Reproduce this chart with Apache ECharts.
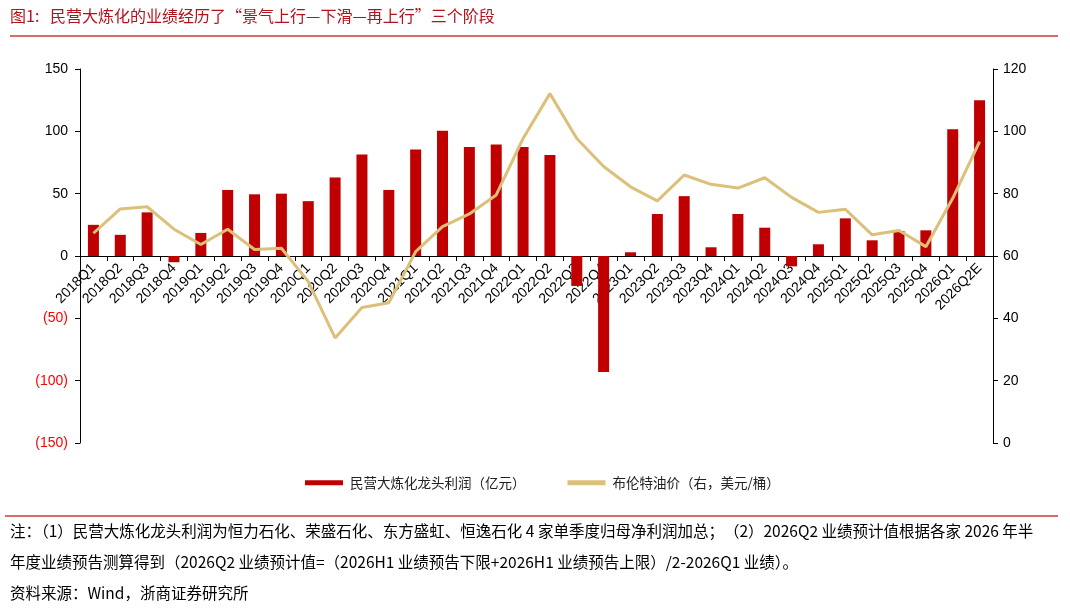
<!DOCTYPE html>
<html>
<head>
<meta charset="utf-8">
<script src="https://cdn.jsdelivr.net/npm/echarts@6/dist/echarts.min.js"></script>
<style>
  html, body { margin: 0; padding: 0; background: #fff; }
  #chart { width: 1070px; height: 614px; }
</style>
</head>
<body>
<div id="chart"></div>
<script>
// quarters on the x axis
const quarters = [
  '2018Q1', '2018Q2', '2018Q3', '2018Q4',
  '2019Q1', '2019Q2', '2019Q3', '2019Q4',
  '2020Q1', '2020Q2', '2020Q3', '2020Q4',
  '2021Q1', '2021Q2', '2021Q3', '2021Q4',
  '2022Q1', '2022Q2', '2022Q3', '2022Q4',
  '2023Q1', '2023Q2', '2023Q3', '2023Q4',
  '2024Q1', '2024Q2', '2024Q3', '2024Q4',
  '2025Q1', '2025Q2', '2025Q3', '2025Q4',
  '2026Q1', '2026Q2E'
]

// 民营大炼化龙头利润 (亿元)
const profit = [
  25, 17, 35, -5,
  18.5, 53, 49.5, 50,
  44, 63, 81.5, 53,
  85.5, 100.5, 87.5, 89.5,
  87.5, 81, -24, -93,
  3, 33.7, 48, 7,
  33.7, 22.7, -8.3, 9.4,
  30.2, 12.6, 20, 20.6,
  101.6, 125
]

// 布伦特油价 (右, 美元/桶)
const brent = [
  67.3, 75.1, 75.8, 68.6,
  63.7, 68.6, 62.1, 62.5,
  51.8, 33.7, 43.5, 45,
  61.4, 69.4, 73.5, 79.6,
  97.7, 112.1, 97.7, 88.7,
  82.2, 77.7, 86, 83,
  81.8, 85.1, 78.8, 74,
  75, 66.8, 68.2, 63,
  78.5, 96.7
]

const leftTicks = { min: -150, max: 150, step: 50 }
const rightTicks = { min: 0, max: 120, step: 20 }

const seriesNames = ['民营大炼化龙头利润（亿元）', '布伦特油价（右，美元/桶）']
const titleText = '图1:   民营大炼化的业绩经历了“景气上行—下滑—再上行”三个阶段'
const notes = [
  '注：（1）民营大炼化龙头利润为恒力石化、荣盛石化、东方盛虹、恒逸石化 4 家单季度归母净利润加总；（2）2026Q2 业绩预计值根据各家 2026 年半',
  '年度业绩预告测算得到（2026Q2 业绩预计值=（2026H1 业绩预告下限+2026H1 业绩预告上限）/2-2026Q1 业绩）。',
  '资料来源：Wind，浙商证券研究所'
]

const RED = '#C00000'
const GOLD = '#DCC07A'
const RULE = '#D96B6B'
const cjk = '"Noto Sans CJK SC", sans-serif'
const latin = '"Liberation Sans", Arial, sans-serif'

const gridTop = 69
const gridBottom = 171
const plotHeight = 614 - gridTop - gridBottom
// the category axis sits on the zero line of the left axis
const zeroFromBottom = gridBottom + plotHeight * (0 - leftTicks.min) / (leftTicks.max - leftTicks.min)

const chart = echarts.init(document.getElementById('chart'))

chart.setOption({
  animation: false,
  backgroundColor: '#fff',
  grid: [
    { left: 80, right: 77, top: gridTop, bottom: gridBottom, containLabel: false, outerBoundsMode: 'none' },
    { left: 80, right: 77, top: gridTop, bottom: zeroFromBottom, containLabel: false, outerBoundsMode: 'none' }
  ],
  legend: {
    top: 471,
    left: 300,
    itemGap: 42,
    itemWidth: 38,
    itemHeight: 5,
    textStyle: { fontFamily: cjk, fontSize: 13.5, color: '#222', padding: [0, 0, 0, 2] },
    data: [
      { name: seriesNames[0], icon: 'rect' },
      { name: seriesNames[1], icon: 'rect', itemStyle: { color: GOLD } }
    ]
  },
  xAxis: [
    {
      type: 'category',
      gridIndex: 0,
      data: quarters,
      show: false
    },
    {
      type: 'category',
      gridIndex: 1,
      data: quarters,
      position: 'bottom',
      axisLine: { onZero: false, lineStyle: { color: '#000', width: 1 } },
      axisTick: { show: true, length: 5, lineStyle: { color: '#000' } },
      axisLabel: {
        interval: 0,
        rotate: 45,
        fontFamily: latin,
        fontSize: 14,
        color: '#000',
        margin: 10
      }
    }
  ],
  yAxis: [
    {
      type: 'value',
      gridIndex: 0,
      min: leftTicks.min,
      max: leftTicks.max,
      interval: leftTicks.step,
      splitLine: { show: false },
      axisLine: { show: true, onZero: false, lineStyle: { color: '#000' } },
      axisTick: { show: true, length: 5, lineStyle: { color: '#000' } },
      axisLabel: {
        fontFamily: latin,
        fontSize: 14,
        margin: 12,
        formatter: v => v < 0 ? '{neg|(' + Math.abs(v) + ')}' : String(v),
        color: '#000',
        rich: { neg: { color: '#FF0000', fontFamily: latin, fontSize: 14 } }
      }
    },
    {
      type: 'value',
      gridIndex: 0,
      min: rightTicks.min,
      max: rightTicks.max,
      interval: rightTicks.step,
      splitLine: { show: false },
      axisLine: { show: true, onZero: false, lineStyle: { color: '#000' } },
      axisTick: { show: true, length: 5, lineStyle: { color: '#000' } },
      axisLabel: { fontFamily: latin, fontSize: 14, color: '#000', margin: 10 }
    },
    {
      type: 'value',
      gridIndex: 1,
      show: false
    }
  ],
  series: [
    {
      name: seriesNames[0],
      type: 'bar',
      xAxisIndex: 0,
      yAxisIndex: 0,
      data: profit,
      barWidth: 11,
      itemStyle: { color: RED }
    },
    {
      name: seriesNames[1],
      type: 'line',
      xAxisIndex: 0,
      yAxisIndex: 1,
      data: brent,
      symbol: 'none',
      lineStyle: { color: GOLD, width: 3 },
      itemStyle: { color: GOLD }
    }
  ],
  graphic: [
    {
      type: 'text', left: 10, top: 8,
      style: { text: titleText, fontFamily: cjk, fontSize: 16, fill: '#B4121B' }
    },
    { type: 'rect', shape: { x: 10, y: 35, width: 1048, height: 2 }, style: { fill: RULE } },
    { type: 'rect', shape: { x: 5, y: 515, width: 1053, height: 2 }, style: { fill: RULE } },
    {
      type: 'text', left: 10, top: 523,
      style: { text: notes[0], fontFamily: cjk, fontSize: 15.5, fill: '#000' }
    },
    {
      type: 'text', left: 10, top: 554,
      style: { text: notes[1], fontFamily: cjk, fontSize: 15.5, fill: '#000' }
    },
    {
      type: 'text', left: 10, top: 585,
      style: { text: notes[2], fontFamily: cjk, fontSize: 15.5, fill: '#000' }
    }
  ]
})

window.addEventListener('resize', () => chart.resize())
</script>
</body>
</html>
